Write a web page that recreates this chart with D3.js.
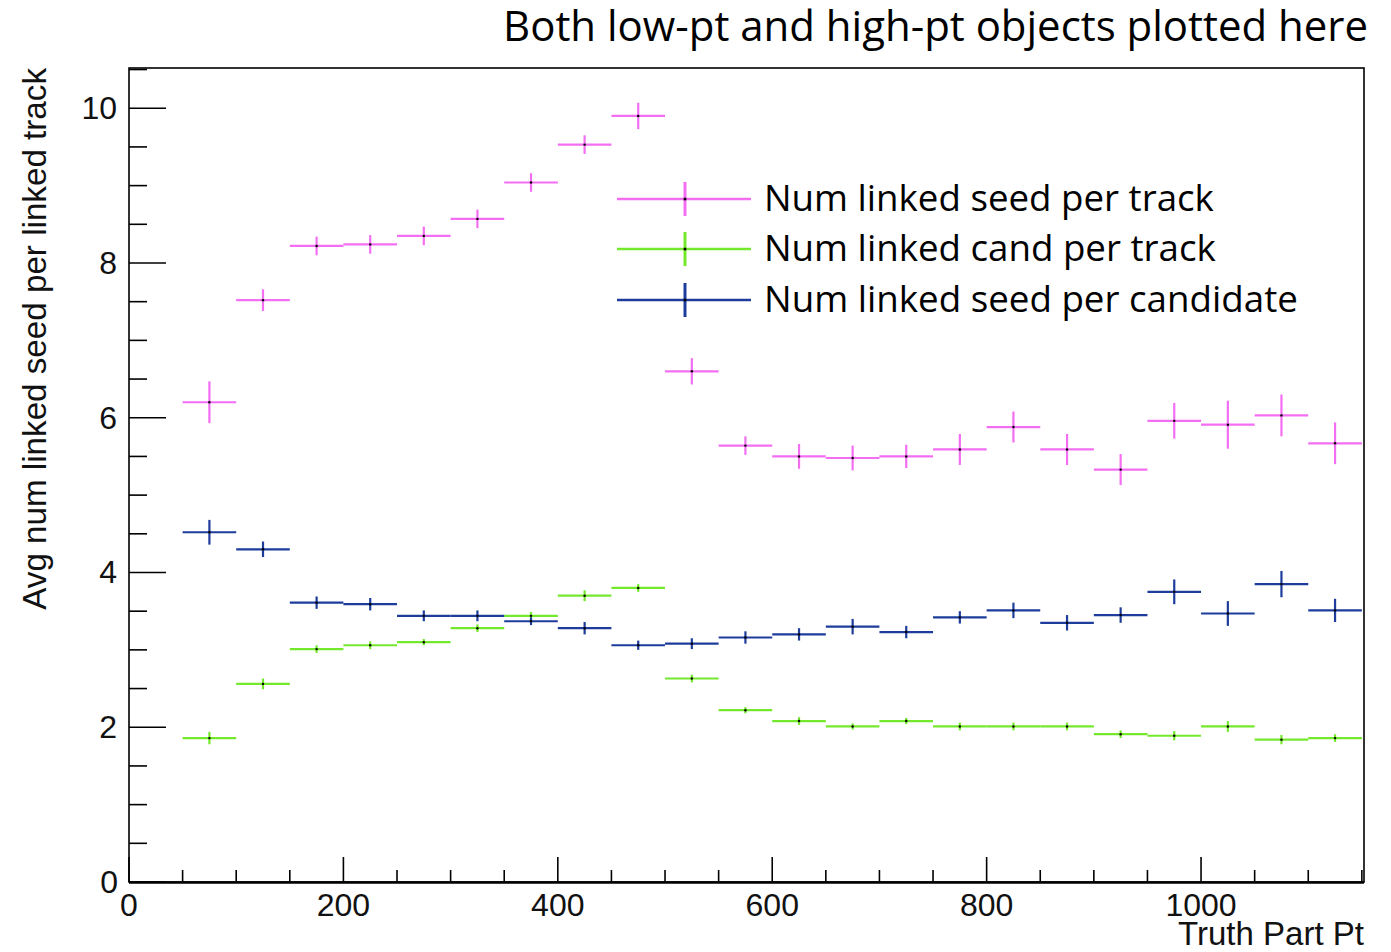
<!DOCTYPE html>
<html>
<head>
<meta charset="utf-8">
<script src="https://cdn.jsdelivr.net/npm/d3@7"></script>
<style>
  body { margin: 0; background: #fff; }
</style>
</head>
<body>
<script>
// bin centres (bins are 50 wide)
const binCenters = [75,125,175,225,275,325,375,425,475,525,575,625,675,725,775,825,875,925,975,1025,1075,1125];
const binWidth = 50;

const seedPerTrack = [6.20,7.52,8.22,8.24,8.35,8.57,9.04,9.53,9.90,6.60,5.64,5.50,5.48,5.50,5.59,5.88,5.59,5.33,5.96,5.91,6.03,5.67];
const seedPerTrackErr = [0.27,0.14,0.12,0.12,0.12,0.12,0.12,0.12,0.17,0.17,0.12,0.16,0.16,0.15,0.2,0.2,0.2,0.2,0.23,0.31,0.27,0.27];

const candPerTrack = [1.86,2.56,3.01,3.06,3.10,3.28,3.44,3.70,3.80,2.63,2.22,2.08,2.01,2.08,2.01,2.01,2.01,1.91,1.89,2.01,1.84,1.86];
const candPerTrackErr = [0.08,0.07,0.05,0.05,0.04,0.05,0.05,0.07,0.05,0.05,0.04,0.05,0.04,0.04,0.05,0.05,0.05,0.05,0.06,0.07,0.06,0.05];

const seedPerCand = [4.52,4.30,3.61,3.59,3.44,3.44,3.37,3.28,3.06,3.08,3.16,3.20,3.30,3.23,3.42,3.51,3.35,3.45,3.75,3.47,3.85,3.51];
const seedPerCandErr = [0.16,0.1,0.08,0.08,0.07,0.07,0.05,0.08,0.06,0.07,0.08,0.08,0.1,0.08,0.08,0.1,0.1,0.1,0.16,0.16,0.17,0.15];

const seriesNames = ["Num linked seed per track","Num linked cand per track","Num linked seed per candidate"];
const seriesColors = ["#f36ef3","#74e82c","#1d3c9c"];

const xTicks = [0,200,400,600,800,1000];
const yTicks = [0,2,4,6,8,10];

const W = 1391, H = 952;
const frame = {left:129, top:68, right:1364, bottom:882};
const axisFont = "'Liberation Sans', Arial, sans-serif";
const textFont = "'Open Sans', 'Noto Sans', sans-serif";

const svg = d3.select("body").append("svg")
    .attr("width", W).attr("height", H);

// scale a text's font size so it spans the wanted width
function fitWidth(sel, target) {
  const fs = +sel.attr("font-size");
  const len = sel.node().getComputedTextLength();
  sel.attr("font-size", (fs * target / len).toFixed(2));
}

const x = d3.scaleLinear().domain([0,1152]).range([frame.left, frame.right]);
const y = d3.scaleLinear().domain([0,10.52]).range([frame.bottom, frame.top]);

// frame
svg.append("rect")
    .attr("x", frame.left).attr("y", frame.top)
    .attr("width", frame.right-frame.left).attr("height", frame.bottom-frame.top)
    .attr("fill","none").attr("stroke","#000").attr("stroke-width",1.6);

// x ticks (inside, pointing up)
const xMinor = d3.range(0,1151,50);
svg.append("g").selectAll("line").data(xMinor).join("line")
    .attr("x1", d=>x(d)).attr("x2", d=>x(d))
    .attr("y1", frame.bottom)
    .attr("y2", d=> frame.bottom - (d%200===0 ? 25 : 12))
    .attr("stroke","#000").attr("stroke-width",1.6);
svg.append("line")
    .attr("x1", frame.left).attr("x2", frame.right)
    .attr("y1", frame.bottom+0.5).attr("y2", frame.bottom+0.5)
    .attr("stroke","#000").attr("stroke-width",2.6);

svg.append("g").selectAll("text").data(xTicks).join("text")
    .attr("x", d=>x(d)).attr("y", frame.bottom+34)
    .attr("text-anchor","middle")
    .attr("font-family", axisFont).attr("font-size",32)
    .attr("fill","#111")
    .text(d=>d);

// y ticks (inside, pointing right)
const yMinor = d3.range(0,10.51,0.5);
svg.append("g").selectAll("line").data(yMinor).join("line")
    .attr("x1", frame.left)
    .attr("x2", d=> frame.left + (Math.abs(d%2)<1e-6 ? 37 : 18))
    .attr("y1", d=>y(d)).attr("y2", d=>y(d))
    .attr("stroke","#000").attr("stroke-width",1.6);

svg.append("g").selectAll("text").data(yTicks).join("text")
    .attr("x", d=> d===0 ? frame.left-11 : frame.left-12)
    .attr("y", d=>y(d)+11)
    .attr("text-anchor","end")
    .attr("font-family", axisFont).attr("font-size",32)
    .attr("fill","#111")
    .text(d=>d);

// axis titles
svg.append("text")
    .attr("x", frame.right).attr("y", 945)
    .attr("text-anchor","end")
    .attr("font-family", axisFont).attr("font-size",30)
    .attr("fill","#111")
    .text("Truth Part Pt")
    .call(fitWidth, 186);

svg.append("text")
    .attr("transform", `translate(46,${frame.top}) rotate(-90)`)
    .attr("text-anchor","end")
    .attr("font-family", axisFont).attr("font-size",29)
    .attr("fill","#111")
    .text("Avg num linked seed per linked track")
    .call(fitWidth, 542);

// title
svg.append("text")
    .attr("x", 1368).attr("y", 41)
    .attr("text-anchor","end")
    .attr("font-family", textFont).attr("font-size",36)
    .attr("fill","#000")
    .text("Both low-pt and high-pt objects plotted here")
    .call(fitWidth, 865);

// data series
const series = [
  {vals: seedPerTrack, errs: seedPerTrackErr},
  {vals: candPerTrack, errs: candPerTrackErr},
  {vals: seedPerCand, errs: seedPerCandErr}
];

series.forEach((s,si)=>{
  const pts = binCenters.map((c,i)=>({c, v:s.vals[i], e:s.errs[i]}));
  const g = svg.append("g");
  g.selectAll(".h").data(pts).join("line")
    .attr("x1", d=>x(d.c-binWidth/2)).attr("x2", d=>Math.min(x(d.c+binWidth/2), frame.right))
    .attr("y1", d=>y(d.v)).attr("y2", d=>y(d.v))
    .attr("stroke", seriesColors[si]).attr("stroke-width",2.2);
  g.selectAll(".v").data(pts).join("line")
    .attr("x1", d=>x(d.c)).attr("x2", d=>x(d.c))
    .attr("y1", d=>y(d.v-d.e)).attr("y2", d=>y(d.v+d.e))
    .attr("stroke", seriesColors[si]).attr("stroke-width",2.2);
  g.selectAll("circle").data(pts).join("circle")
    .attr("cx", d=>x(d.c)).attr("cy", d=>y(d.v)).attr("r",1.2)
    .attr("fill","#000");
});

// legend
const legY = [199, 249, 300];
const legWidths = [450, 452, 534];
const legend = svg.append("g");
seriesNames.forEach((name,i)=>{
  const gy = legY[i];
  legend.append("line")
    .attr("x1",617).attr("x2",751).attr("y1",gy).attr("y2",gy)
    .attr("stroke",seriesColors[i]).attr("stroke-width",2.6);
  legend.append("line")
    .attr("x1",685).attr("x2",685).attr("y1",gy-17).attr("y2",gy+17)
    .attr("stroke",seriesColors[i]).attr("stroke-width",3);
  legend.append("circle").attr("cx",685).attr("cy",gy).attr("r",1.5).attr("fill","#000");
  legend.append("text")
    .attr("x",764).attr("y",gy+12)
    .attr("font-family",textFont).attr("font-size",36)
    .attr("fill","#000")
    .text(name)
    .call(fitWidth, legWidths[i]);
});
</script>
</body>
</html>
